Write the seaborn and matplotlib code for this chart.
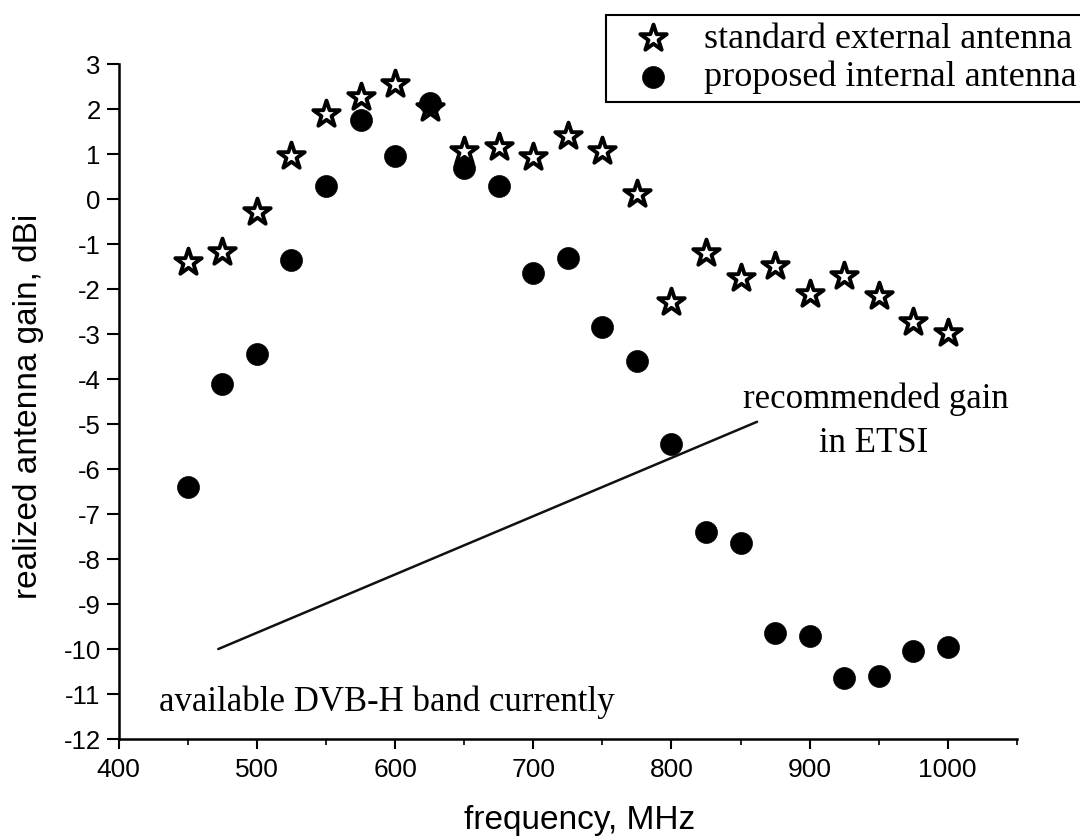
import numpy as np
import pandas as pd
import matplotlib
matplotlib.use("Agg")
import matplotlib.pyplot as plt
import seaborn as sns

# DATA
freq = [450, 475, 500, 525, 550, 575, 600, 625, 650, 675, 700, 725,
        750, 775, 800, 825, 850, 875, 900, 925, 950, 975, 1000]
gain_external = [-1.39, -1.17, -0.28, 0.96, 1.9, 2.27, 2.56, 2.03, 1.06, 1.16, 0.93, 1.39,
                 1.06, 0.12, -2.28, -1.2, -1.76, -1.48, -2.1, -1.72, -2.16, -2.73, -2.98]
gain_internal = [-6.4, -4.1, -3.45, -1.35, 0.3, 1.75, 0.95, 2.13, 0.69, 0.3, -1.65, -1.3,
                 -2.85, -3.6, -5.45, -7.4, -7.65, -9.65, -9.7, -10.65, -10.6, -10.05, -9.95]
etsi_freq = [472, 862]
etsi_gain = [-10.0, -4.95]

label_external = "standard external antenna"
label_internal = "proposed internal antenna"

df_ext = pd.DataFrame({"freq": freq, "gain": gain_external})
df_int = pd.DataFrame({"freq": freq, "gain": gain_internal})
df_etsi = pd.DataFrame({"freq": etsi_freq, "gain": etsi_gain})

sns.set_style("ticks")
plt.rcParams["font.family"] = ["Liberation Sans", "DejaVu Sans"]
plt.rcParams["text.color"] = "black"
plt.rcParams["axes.labelcolor"] = "black"
plt.rcParams["xtick.color"] = "black"
plt.rcParams["ytick.color"] = "black"

fig = plt.figure(figsize=(10.8, 8.4), dpi=100)
ax = fig.add_axes([0.110, 0.1202, 0.8315, 0.8036])

sns.lineplot(data=df_etsi, x="freq", y="gain", color="#111111", linewidth=1.8, ax=ax)
sns.scatterplot(data=df_ext, x="freq", y="gain", marker="*", s=400,
                facecolor="white", edgecolor="black", linewidth=2.8,
                label=label_external, ax=ax, zorder=3)
sns.scatterplot(data=df_int, x="freq", y="gain", marker="o", s=250,
                color="black", edgecolor="black", linewidth=0.5,
                label=label_internal, ax=ax, zorder=4)

ax.set_xlim(400, 1050)
ax.set_ylim(-12, 3)
ax.set_xticks(range(400, 1001, 100))
ax.set_xticks(range(450, 1051, 100), minor=True)
ax.set_yticks(range(-12, 4))
sns.despine(ax=ax)
for sp in ["left", "bottom"]:
    ax.spines[sp].set_linewidth(1.8)
    ax.spines[sp].set_color("black")

ax.tick_params(axis="y", which="major", direction="out", length=9, width=1.5,
               labelsize=18.5, pad=4)
ax.tick_params(axis="x", which="major", direction="out", length=7, width=1.5,
               labelsize=19, pad=7)
ax.tick_params(axis="x", which="minor", direction="out", length=4, width=1.2)
ax.set_yticklabels([str(v) for v in range(-12, 4)])

ax.set_xlabel("frequency, MHz", fontsize=24)
ax.set_ylabel("realized antenna gain, dBi", fontsize=24)
ax.xaxis.set_label_coords(0.513, -0.098)
ax.yaxis.set_label_coords(-0.083, 0.493)

serif = ["Liberation Serif", "DejaVu Serif"]
ax.text(948, -4.64, "recommended gain", ha="center", va="baseline",
        fontsize=25, family=serif)
ax.text(946, -5.62, "in ETSI", ha="center", va="baseline",
        fontsize=25, family=serif)
ax.text(429, -11.37, "available DVB-H band currently", ha="left", va="baseline",
        fontsize=25, family=serif)

leg = ax.legend(loc="upper left", bbox_to_anchor=(606 / 1080, 1 - 15 / 840),
                bbox_transform=fig.transFigure, frameon=True, fancybox=False,
                edgecolor="black", framealpha=1, borderpad=0.2, labelspacing=0.15,
                handlelength=2.2, handletextpad=0.3, borderaxespad=0,
                prop={"family": serif, "size": 26})
leg.get_frame().set_linewidth(1.5)
for t in leg.get_texts():
    t.set_color("black")

fig.savefig("out.png", dpi=100)
